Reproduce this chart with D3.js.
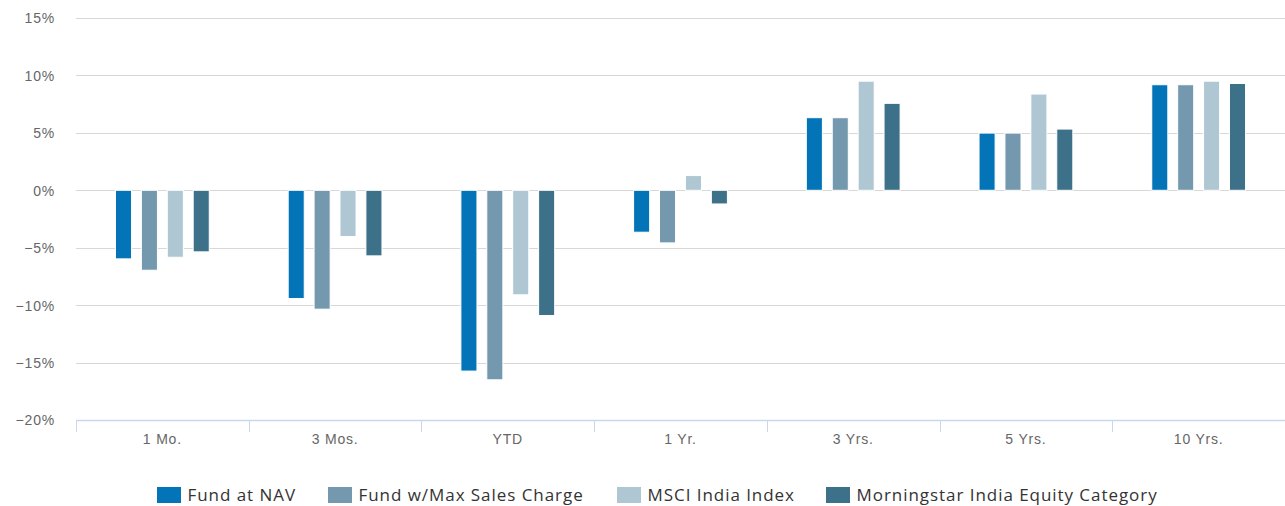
<!DOCTYPE html>
<html><head><meta charset="utf-8">
<script src="https://cdn.jsdelivr.net/npm/d3@7"></script>
<style>
body{margin:0;background:#fff;}
svg{display:block;font-family:"Open Sans",sans-serif;}
</style></head><body>
<svg id="chart" width="1285" height="506"></svg>
<script>
const categories = ["1 Mo.", "3 Mos.", "YTD", "1 Yr.", "3 Yrs.", "5 Yrs.", "10 Yrs."];
const seriesNames = ["Fund at NAV", "Fund w/Max Sales Charge", "MSCI India Index", "Morningstar India Equity Category"];
const fundNav      = [-5.97, -9.42, -15.74, -3.65, 6.32, 4.98, 9.19];
const fundMaxSales = [-6.96, -10.35, -16.50, -4.58, 6.32, 4.98, 9.19];
const msciIndia    = [-5.83, -4.03, -9.10, 1.28, 9.50, 8.38, 9.50];
const morningstar  = [-5.36, -5.71, -10.90, -1.19, 7.57, 5.33, 9.30];
const yTicks = [-20, -15, -10, -5, 0, 5, 10, 15];
const colors = ["#0474b8", "#7499ae", "#afc6d3", "#3d7189"];

(function () {
const seriesValues = [fundNav, fundMaxSales, msciIndia, morningstar];
const svg = d3.select("#chart");
const pLeft = 76, pRight = 1285, pTop = 18, pBottom = 420;

const y = d3.scaleLinear().domain([-20, 15]).range([pBottom, pTop]);
const x0 = d3.scaleBand().domain(categories).range([pLeft, pRight]).padding(0);
const bw = x0.bandwidth();
const x1 = d3.scaleBand().domain(seriesNames).range([bw * 0.2, bw * 0.8]).paddingInner(0.38).paddingOuter(0.19);

// gridlines
svg.append("g").selectAll("line").data(yTicks.filter(t => t > -20)).join("line")
  .attr("x1", pLeft).attr("x2", pRight)
  .attr("y1", d => Math.round(y(d)) + 0.5).attr("y2", d => Math.round(y(d)) + 0.5)
  .attr("stroke", "#d8d8d8").attr("stroke-width", 1);

// y labels
const yAxis = d3.axisLeft(y).tickValues(yTicks).tickSize(0).tickPadding(0)
  .tickFormat(d => d3.format("")(d) + "%");
const ya = svg.append("g").attr("transform", "translate(55,0)").call(yAxis);
ya.select(".domain").remove();
ya.selectAll("text").attr("fill", "#666").style("font-size", "14px").style("letter-spacing", "0.8px").attr("dy", "0.35em");

// x axis
const xAxis = d3.axisBottom(x0).tickSize(0).tickPadding(0);
const xa = svg.append("g").attr("transform", `translate(0,${pBottom})`).call(xAxis);
xa.select(".domain").remove();
xa.selectAll("text").attr("fill", "#666").style("font-size", "14px").style("letter-spacing", "0.8px")
  .attr("y", 0).attr("dy", "24px");
svg.append("line").attr("x1", pLeft).attr("x2", pRight).attr("y1", pBottom + 0.5).attr("y2", pBottom + 0.5)
  .attr("stroke", "#ccd6eb").attr("stroke-width", 1.5);
svg.append("g").selectAll("line").data(categories.map(c => x0(c))).join("line")
  .attr("x1", d => Math.round(d) + 0.5).attr("x2", d => Math.round(d) + 0.5)
  .attr("y1", pBottom).attr("y2", pBottom + 12).attr("stroke", "#ccd6eb");

// bars
const bars = svg.append("g");
seriesNames.forEach((s, si) => {
  bars.append("g").selectAll("rect").data(seriesValues[si]).join("rect")
    .attr("x", (d, i) => x0(categories[i]) + x1(s))
    .attr("width", x1.bandwidth())
    .attr("y", d => y(Math.max(0, d)))
    .attr("height", d => Math.abs(y(d) - y(0)))
    .attr("fill", colors[si])
    .attr("stroke", "#fff").attr("stroke-width", 1);
});

// legend
const legendX = [157, 328, 617, 826];
const lg = svg.append("g");
seriesNames.forEach((s, i) => {
  const g = lg.append("g").attr("transform", `translate(${legendX[i]},487)`);
  g.append("rect").attr("width", 24).attr("height", 16).attr("fill", colors[i]);
  g.append("text").attr("x", 30.5).attr("y", 8).attr("dy", "0.35em")
    .attr("fill", "#333").style("font-size", "17px").style("letter-spacing", "0.95px").text(s);
});
})();
</script>
</body></html>
